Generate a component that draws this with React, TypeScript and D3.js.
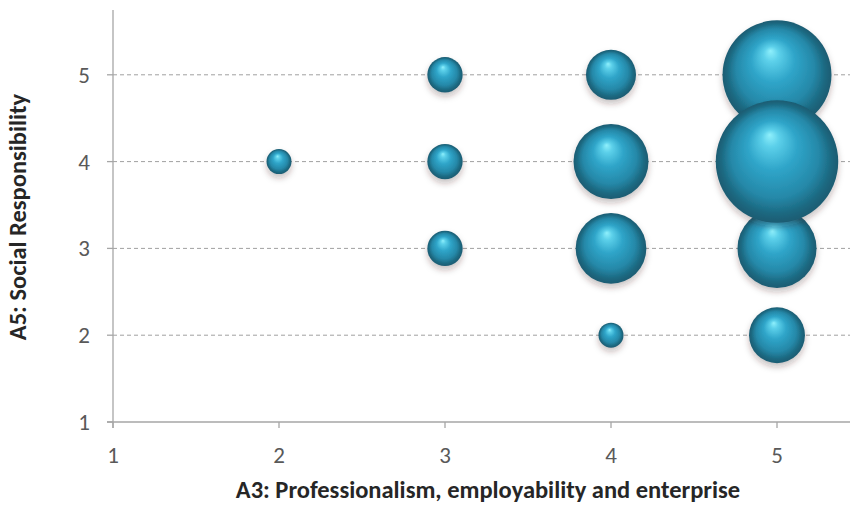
import React from "react";
import * as d3 from "d3";

const xValues = [2, 3, 3, 3, 4, 4, 4, 4, 5, 5, 5, 5];
const yValues = [4, 5, 4, 3, 5, 4, 3, 2, 5, 4, 3, 2];
const sizes = [1, 2, 2, 2, 4, 9, 8, 1, 19, 24, 10, 5];
const xTicks = [1, 2, 3, 4, 5];
const yTicks = [1, 2, 3, 4, 5];
const gridTicks = [2, 3, 4, 5];
const xTitle = "A3: Professionalism, employability and enterprise";
const yTitle = "A5: Social Responsibility";

const W = 850;
const H = 509;
const left = 113;
const right = 850;
const top = 10;
const bottom = 422;

export default function App() {
  const x = d3.scaleLinear().domain([1, 1 + (right - left) / 166]).range([left, right]);
  const y = d3.scaleLinear().domain([1, 1 + (bottom - top) / 86.8]).range([bottom, top]);
  const r = d3.scaleSqrt().domain([0, 1]).range([0, 12.5]);
  const pts = xValues
    .map((xv, i) => ({ x: xv, y: yValues[i], s: sizes[i] }))
    .sort((a, b) => a.s - b.s);
  const font = "Carlito, Calibri, 'Open Sans', 'Noto Sans', sans-serif";
  return (
    <svg width={W} height={H} style={{ position: "absolute", left: 0, top: 0 }} fontFamily={font}>
      <defs>
        <radialGradient id="sph" cx="0.5" cy="0.5" r="0.5" fx="0.44" fy="0.28">
          <stop offset="0%" stopColor="#8ff0fc" />
          <stop offset="14%" stopColor="#5cd0ea" />
          <stop offset="40%" stopColor="#2fa5c9" />
          <stop offset="72%" stopColor="#2588a8" />
          <stop offset="90%" stopColor="#1c6880" />
          <stop offset="100%" stopColor="#1a5c72" />
        </radialGradient>
        <filter id="shadow" x="-30%" y="-30%" width="160%" height="170%">
          <feDropShadow dx="0" dy="4" stdDeviation="3" floodColor="#3a2020" floodOpacity="0.28" />
        </filter>
      </defs>
      <rect width={W} height={H} fill="#fff" />
      {gridTicks.map((t) => (
        <line key={t} x1={left} x2={right} y1={y(t)} y2={y(t)} stroke="#a0a0a0" strokeWidth={1} strokeDasharray="4,3" />
      ))}
      <line x1={left} x2={left} y1={top} y2={bottom + 6} stroke="#a6a6a6" strokeWidth={1.3} />
      <line x1={left - 6} x2={right} y1={bottom} y2={bottom} stroke="#a6a6a6" strokeWidth={1.3} />
      {xTicks.map((t) => (
        <g key={t}>
          <line x1={x(t)} x2={x(t)} y1={bottom} y2={bottom + 6} stroke="#a6a6a6" strokeWidth={1.3} />
          <text x={x(t)} y={bottom + 41} textAnchor="middle" fontSize={23} fill="#595959">{t}</text>
        </g>
      ))}
      {yTicks.map((t) => (
        <g key={t}>
          <line x1={left - 6} x2={left} y1={y(t)} y2={y(t)} stroke="#a6a6a6" strokeWidth={1.3} />
          <text x={left - 23} y={y(t) + 8} textAnchor="end" fontSize={23} fill="#595959">{t}</text>
        </g>
      ))}
      {pts.map((p, i) => (
        <circle key={i} cx={x(p.x)} cy={y(p.y)} r={r(p.s)} fill="url(#sph)" filter="url(#shadow)" />
      ))}
      <text x={488} y={498} textAnchor="middle" fontSize={24.5} fontWeight="bold" fill="#262626">{xTitle}</text>
      <text transform={`translate(26,${217}) rotate(-90)`} textAnchor="middle" fontSize={24.5} fontWeight="bold" fill="#262626">{yTitle}</text>
    </svg>
  );
}
